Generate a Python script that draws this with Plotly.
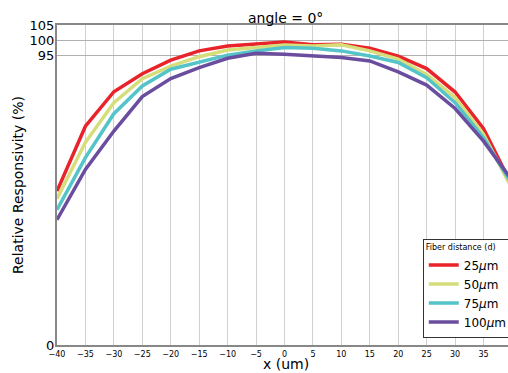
import plotly.graph_objects as go

x_um = [-40, -35, -30, -25, -20, -15, -10, -5, 0, 5, 10, 15, 20, 25, 30, 35, 40]
d25 = [50.5, 71.8, 83.1, 89.0, 93.5, 96.5, 98.1, 98.7, 99.4, 98.5, 98.7, 97.4, 94.8, 90.7, 83.0, 71.0, 52.3]
d50 = [48.0, 66.5, 79.5, 87.4, 91.5, 94.6, 96.8, 97.6, 98.4, 98.1, 98.5, 96.5, 93.8, 88.8, 81.2, 69.1, 51.3]
d75 = [44.4, 61.5, 75.9, 85.0, 90.5, 92.7, 95.1, 96.5, 97.6, 97.4, 96.5, 94.8, 92.7, 87.7, 79.5, 68.0, 52.8]
d100 = [41.1, 57.6, 70.2, 81.5, 87.4, 91.0, 94.1, 95.7, 95.4, 94.8, 94.3, 93.2, 89.6, 85.3, 77.6, 66.9, 54.1]

series_names = ["25<i>μ</i>m", "50<i>μ</i>m", "75<i>μ</i>m", "100<i>μ</i>m"]
series_vals = [d25, d50, d75, d100]
colors = ["#e8232a", "#d5de7b", "#55c4c9", "#6a4d9f"]

x_ticks = list(range(-40, 45, 5))
x_ticktext = [str(v).replace("-", "\u2212") for v in x_ticks]
y_ticks = [0, 95, 100, 105]

FONT = "DejaVu Sans"

fig = go.Figure()
for name, vals, col in zip(series_names, series_vals, colors):
    fig.add_trace(go.Scatter(x=x_um, y=vals, mode="lines", name=name,
                             line=dict(color=col, width=3.5)))

fig.update_layout(
    width=508, height=373,
    margin=dict(l=57, r=0, t=25, b=28, autoexpand=False),
    plot_bgcolor="white", paper_bgcolor="white",
    font=dict(family=FONT, color="black"),
    title=dict(text="angle = 0°", x=0.507, xref="paper", xanchor="center",
               y=1 - 18 / 373, yref="container", yanchor="middle",
               font=dict(size=14, family=FONT)),
    showlegend=True,
    legend=dict(
        title=dict(text="Fiber distance (d)", font=dict(size=8, family=FONT)),
        x=0.811, xanchor="left", y=0.331, yanchor="top",
        bgcolor="white", bordercolor="#333333", borderwidth=1,
        font=dict(size=12, family=FONT),
        itemwidth=30, tracegroupgap=0,
    ),
    annotations=[dict(text="x (um)", xref="paper", yref="paper",
                      x=0.507, y=-(364 - 345) / 320, xanchor="center", yanchor="middle",
                      showarrow=False, font=dict(size=14, family=FONT))],
)

fig.update_xaxes(
    range=[-40, 39.3], tickvals=x_ticks, ticktext=x_ticktext,
    tickfont=dict(size=8, family=FONT), ticks="", ticklabelstandoff=0,
    showgrid=True, gridcolor="#d0d0d0", gridwidth=1,
    showline=True, linecolor="#888888", linewidth=2, mirror=True,
    zeroline=False, automargin=False,
)
fig.update_yaxes(
    range=[0, 105], tickvals=y_ticks, ticktext=[str(v) for v in y_ticks],
    tickfont=dict(size=13, family=FONT), ticks="", ticklabelstandoff=-2,
    showgrid=True, gridcolor="#b0b0b0", gridwidth=1,
    showline=True, linecolor="#888888", linewidth=2, mirror=True,
    zeroline=False, automargin=False,
    title=dict(text="Relative Responsivity (%)", font=dict(size=14, family=FONT), standoff=3),
)

fig.write_html("out.html", config={"displayModeBar": False},
               post_script="document.body.style.margin='0';")
